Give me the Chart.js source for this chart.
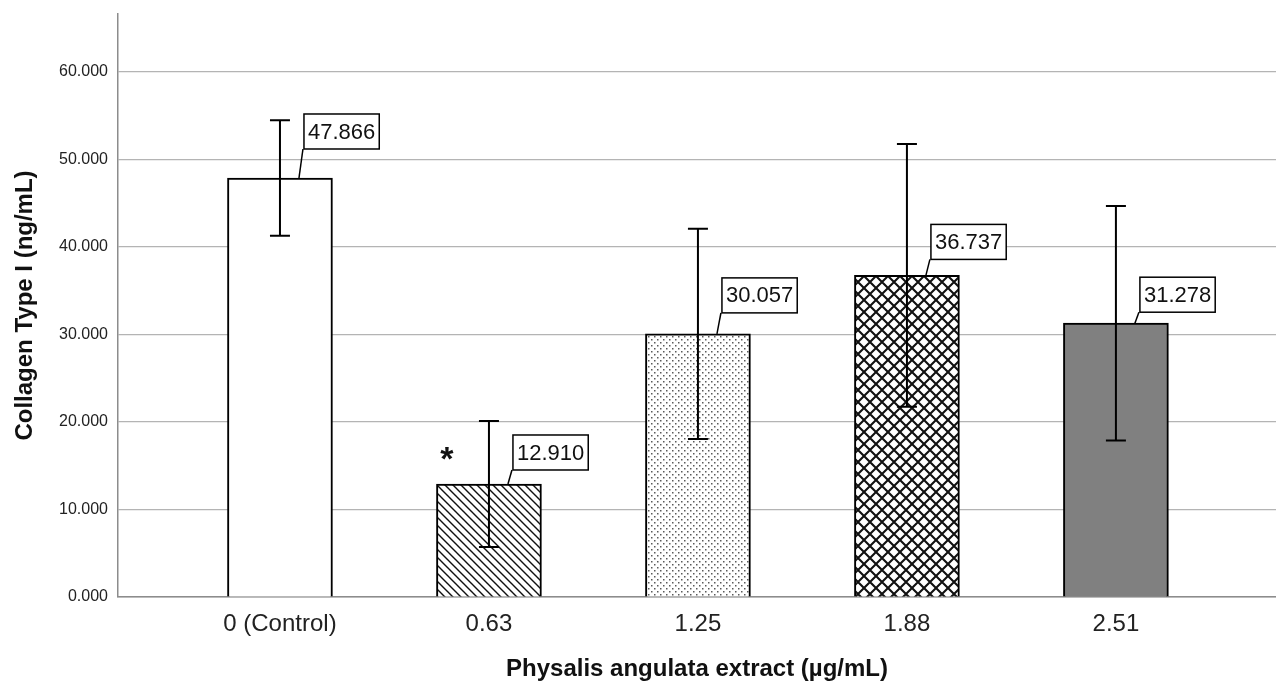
<!DOCTYPE html>
<html>
<head>
<meta charset="utf-8">
<script src="https://cdn.jsdelivr.net/npm/chart.js@4/dist/chart.umd.min.js"></script>
<style>
  html, body { margin: 0; padding: 0; background: #fff; }
  #wrap { width: 1276px; height: 684px; }
</style>
</head>
<body>
<div id="wrap"><canvas id="chart"></canvas></div>
<script>
// data
const doses = ['0 (Control)', '0.63', '1.25', '1.88', '2.51'];
const means = [47.866, 12.910, 30.057, 36.737, 31.278];
const errLow = [41.27, 5.71, 18.06, 21.74, 17.88];
const errHigh = [54.47, 20.11, 42.06, 51.74, 44.68];
const marks = ['', '*', '', '', ''];
const yTicks = [0, 10, 20, 30, 40, 50, 60];

// label box lift above each bar top (px)
const labelLift = [29, 14, 21, 16, 11];

const FONT = '"Liberation Sans", Arial, sans-serif';

function makePattern(size, draw) {
    let c = document.createElement('canvas');
    c.width = size;
    c.height = size;
    let g = c.getContext('2d');
    g.fillStyle = '#fff';
    g.fillRect(0, 0, size, size);
    draw(g, size);
    return g.createPattern(c, 'repeat');
}

// single diagonal hatch
let hatch = makePattern(8, (g, s) => {
    g.strokeStyle = '#111';
    g.lineWidth = 1.4;
    g.beginPath();
    g.moveTo(-1, -1); g.lineTo(s + 1, s + 1);
    g.moveTo(-1, s - 1); g.lineTo(1, s + 1);
    g.moveTo(s - 1, -1); g.lineTo(s + 1, 1);
    g.stroke();
});

// fine staggered dots
let dots = makePattern(6, (g) => {
    g.fillStyle = '#5a5a5a';
    g.fillRect(0, 0, 1.5, 1.5);
    g.fillRect(3, 3, 1.5, 1.5);
});

// cross hatch
let cross = makePattern(12, (g, s) => {
    g.strokeStyle = '#111';
    g.lineWidth = 2.1;
    g.beginPath();
    g.moveTo(-1, -1); g.lineTo(s + 1, s + 1);
    g.moveTo(-1, s + 1); g.lineTo(s + 1, -1);
    g.stroke();
});

const fills = ['#ffffff', hatch, dots, cross, '#808080'];

const extras = {
    id: 'extras',
    afterDatasetsDraw(chart) {
        let ctx = chart.ctx;
        let x = chart.scales.x;
        let y = chart.scales.y;
        ctx.save();
        means.forEach((m, i) => {
            let cx = x.getPixelForValue(i);
            let top = y.getPixelForValue(m);

            // error bar
            let hi = y.getPixelForValue(errHigh[i]);
            let lo = y.getPixelForValue(errLow[i]);
            ctx.strokeStyle = '#000';
            ctx.lineWidth = 2;
            ctx.beginPath();
            ctx.moveTo(cx, hi); ctx.lineTo(cx, lo);
            ctx.moveTo(cx - 10, hi); ctx.lineTo(cx + 10, hi);
            ctx.moveTo(cx - 10, lo); ctx.lineTo(cx + 10, lo);
            ctx.stroke();

            // value label box
            let text = m.toFixed(3);
            ctx.font = '22px ' + FONT;
            let w = ctx.measureText(text).width + 8;
            let h = 35;
            let bx = cx + 24;
            let by = top - labelLift[i] - h;
            ctx.lineWidth = 1.5;
            ctx.beginPath();
            ctx.moveTo(cx + 19, top);
            ctx.lineTo(cx + 23, by + h);
            ctx.stroke();
            ctx.fillStyle = '#fff';
            ctx.fillRect(bx, by, w, h);
            ctx.strokeRect(bx, by, w, h);
            ctx.fillStyle = '#111';
            ctx.textAlign = 'center';
            ctx.textBaseline = 'middle';
            ctx.fillText(text, bx + w / 2, by + h / 2 + 1);

            // significance mark
            if (marks[i]) {
                ctx.font = 'bold 34px ' + FONT;
                ctx.fillText(marks[i], cx - 42, top - 23);
            }
        });
        ctx.restore();
    }
};

new Chart(document.getElementById('chart'), {
    type: 'bar',
    data: {
        datasets: [{
            data: means.map((v, i) => ({ x: i, y: v })),
            backgroundColor: fills,
            borderColor: '#000',
            borderWidth: 2,
            borderSkipped: 'bottom',
            barThickness: 105,
        }]
    },
    options: {
        responsive: true,
        maintainAspectRatio: false,
        animation: false,
        layout: { padding: { top: 14, right: 0, left: 0, bottom: 0 } },
        plugins: {
            legend: { display: false },
            tooltip: { enabled: false },
        },
        scales: {
            x: {
                type: 'linear',
                offset: false,
                min: -0.775,
                max: 4.766,
                grid: { display: false },
                border: { display: true, color: '#8c8c8c', width: 1.5 },
                afterBuildTicks: (scale) => {
                    scale.ticks = doses.map((d, i) => ({ value: i }));
                },
                afterFit: (scale) => {
                    scale.height = 87;
                    scale.paddingLeft = 0;
                    scale.paddingRight = 0;
                },
                ticks: {
                    autoSkip: false,
                    maxRotation: 0,
                    padding: 5,
                    color: '#222',
                    font: { family: FONT, size: 24 },
                    callback: (v) => doses[v],
                },
                title: {
                    display: true,
                    text: 'Physalis angulata extract (µg/mL)',
                    color: '#111',
                    font: { family: FONT, size: 24, weight: 'bold' },
                    padding: { top: 0, bottom: 0 },
                },
            },
            y: {
                min: 0,
                max: 66.6,
                afterBuildTicks: (scale) => {
                    scale.ticks = yTicks.map(v => ({ value: v }));
                },
                afterFit: (scale) => {
                    scale.width = 118;
                    scale.paddingTop = 0;
                    scale.paddingBottom = 0;
                },
                grid: {
                    color: '#b4b4b4',
                    lineWidth: 1.2,
                    drawTicks: false,
                },
                border: { display: true, color: '#8c8c8c', width: 1.5 },
                ticks: {
                    padding: 10,
                    color: '#222',
                    font: { family: FONT, size: 16 },
                    callback: (v) => v.toFixed(3),
                },
                title: {
                    display: true,
                    text: 'Collagen Type I (ng/mL)',
                    color: '#111',
                    font: { family: FONT, size: 24, weight: 'bold' },
                    padding: { top: 11, bottom: 11 },
                },
            },
        },
    },
    plugins: [extras],
});
</script>
</body>
</html>
